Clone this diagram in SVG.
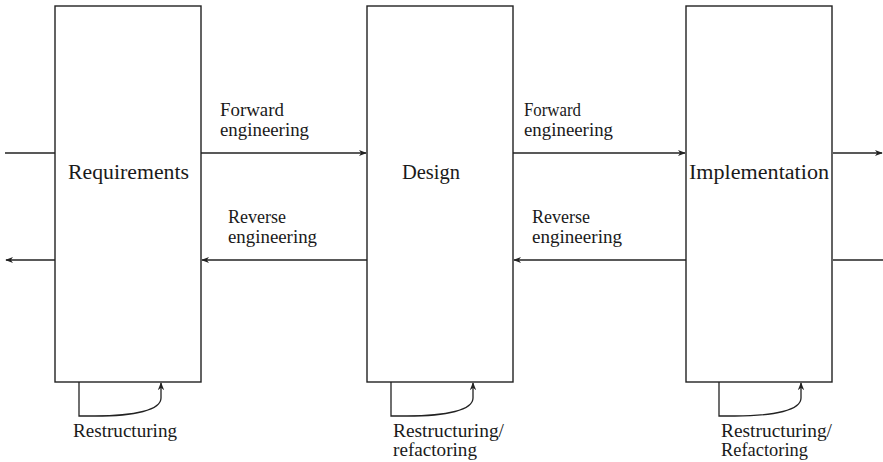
<svg xmlns="http://www.w3.org/2000/svg" width="883" height="462" viewBox="0 0 883 462">
<defs>
<marker id="ah" viewBox="0 0 10 10" refX="9" refY="5" markerWidth="8" markerHeight="8" markerUnits="userSpaceOnUse" orient="auto">
<path d="M0,1 L10,5 L0,9 L3,5 Z" fill="#222"/>
</marker>
</defs>
<style>
.box{fill:#fff;stroke:#222;stroke-width:1.4}
.ln{fill:none;stroke:#222;stroke-width:1.3}
.t{font-family:"Liberation Serif","Times New Roman",serif;fill:#1a1a1a}
.big{font-size:20px}
.lab{font-size:18px}
</style>
<rect width="883" height="462" fill="#fff"/>
<g id="connectors">
<line class="ln" x1="5" y1="153" x2="55" y2="153"/>
<line class="ln" x1="201" y1="153" x2="366" y2="153" marker-end="url(#ah)"/>
<line class="ln" x1="513" y1="153" x2="685" y2="153" marker-end="url(#ah)"/>
<line class="ln" x1="833" y1="153" x2="882" y2="153" marker-end="url(#ah)"/>
<line class="ln" x1="55" y1="260" x2="6" y2="260" marker-end="url(#ah)"/>
<line class="ln" x1="367" y1="260" x2="202" y2="260" marker-end="url(#ah)"/>
<line class="ln" x1="686" y1="260" x2="514" y2="260" marker-end="url(#ah)"/>
<line class="ln" x1="883" y1="260" x2="833" y2="260"/>
<path class="ln" d="M79,382 V416 H95 C135,416 161,410 161,398 V383" marker-end="url(#ah)"/>
<path class="ln" d="M391,382 V416 H407 C447,416 473,410 473,398 V383" marker-end="url(#ah)"/>
<path class="ln" d="M719,382 V416 H735 C775,416 801,410 801,398 V383" marker-end="url(#ah)"/>
<text class="t lab" x="220" y="116" textLength="64" lengthAdjust="spacingAndGlyphs">Forward</text>
<text class="t lab" x="220" y="136" textLength="89" lengthAdjust="spacingAndGlyphs">engineering</text>
<text class="t lab" x="524" y="116" textLength="57" lengthAdjust="spacingAndGlyphs">Forward</text>
<text class="t lab" x="524" y="136" textLength="89" lengthAdjust="spacingAndGlyphs">engineering</text>
<text class="t lab" x="228" y="223" textLength="58" lengthAdjust="spacingAndGlyphs">Reverse</text>
<text class="t lab" x="228" y="243" textLength="89" lengthAdjust="spacingAndGlyphs">engineering</text>
<text class="t lab" x="532" y="223" textLength="58" lengthAdjust="spacingAndGlyphs">Reverse</text>
<text class="t lab" x="532" y="243" textLength="90" lengthAdjust="spacingAndGlyphs">engineering</text>
<text class="t lab" x="73" y="437" textLength="104" lengthAdjust="spacingAndGlyphs">Restructuring</text>
<text class="t lab" x="393" y="437" textLength="111" lengthAdjust="spacingAndGlyphs">Restructuring/</text>
<text class="t lab" x="393" y="456" textLength="84" lengthAdjust="spacingAndGlyphs">refactoring</text>
<text class="t lab" x="721" y="437" textLength="111" lengthAdjust="spacingAndGlyphs">Restructuring/</text>
<text class="t lab" x="721" y="456" textLength="87" lengthAdjust="spacingAndGlyphs">Refactoring</text>
</g>
<g id="requirements">
<rect class="box" x="55" y="6" width="146" height="376"/>
<text class="t big" x="68" y="179" textLength="121" lengthAdjust="spacingAndGlyphs">Requirements</text>
</g>
<g id="design">
<rect class="box" x="367" y="6" width="146" height="376"/>
<text class="t big" x="402" y="179" textLength="58" lengthAdjust="spacingAndGlyphs">Design</text>
</g>
<g id="implementation">
<rect class="box" x="686" y="6" width="146" height="376"/>
<text class="t big" x="689" y="179" textLength="140" lengthAdjust="spacingAndGlyphs">Implementation</text>
</g>
</svg>
